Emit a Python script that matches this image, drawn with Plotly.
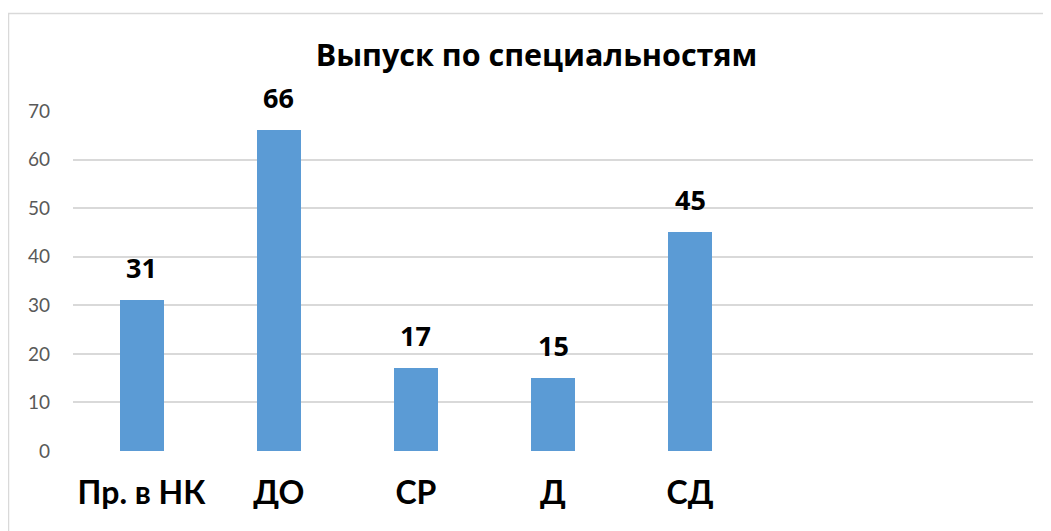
import plotly.graph_objects as go

categories = ["Пр. в НК", "ДО", "СР", "Д", "СД"]
values = [31, 66, 17, 15, 45]
y_ticks = [0, 10, 20, 30, 40, 50, 60, 70]
n_slots = 7  # two empty category slots on the right

x_pos = list(range(len(categories)))

# the page body has an 8px margin, so the figure is drawn 8px in from the window corner
W, H = 1043, 523
L, R, T, B = 65, 18, 103, 80
plot_h = H - T - B

fig = go.Figure()
fig.add_trace(go.Bar(
    x=x_pos,
    y=values,
    width=0.32,
    marker=dict(color="#5B9BD5", line=dict(width=0)),
    hoverinfo="skip",
))

for xp, v in zip(x_pos, values):
    fig.add_annotation(
        x=xp, y=v, xref="x", yref="y",
        text=f"<b>{v}</b>",
        showarrow=False,
        yanchor="bottom",
        yshift=12,
        font=dict(family="Open Sans", size=27, color="#000000"),
    )

fig.update_layout(
    width=W,
    height=H,
    margin=dict(l=L, r=R, t=T, b=B, pad=0, autoexpand=False),
    paper_bgcolor="#ffffff",
    plot_bgcolor="#ffffff",
    showlegend=False,
    font=dict(family="Lato"),
    title=dict(
        text="<b>Выпуск по специальностям</b>",
        x=(536.5 - 8) / W,
        xanchor="center",
        y=1 - 47 / H,
        yanchor="middle",
        font=dict(family="Open Sans", size=30.5, color="#000000"),
    ),
    bargap=0,
)

fig.update_xaxes(
    range=[-0.5, n_slots - 0.5],
    tickvals=x_pos,
    ticktext=categories,
    tickfont=dict(family="Lato", size=32, color="#000000", weight="bold"),
    showgrid=False,
    zeroline=False,
    showline=False,
    ticks="",
    ticklabelstandoff=20,
    automargin=False,
)

fig.update_yaxes(
    range=[0, 70],
    tickvals=y_ticks,
    tickfont=dict(family="Lato", size=19, color="#595959"),
    showgrid=True,
    gridcolor="#d9d9d9",
    gridwidth=1.5,
    zeroline=False,
    showline=False,
    ticks="",
    ticklabelstandoff=22,
    automargin=False,
)

# outer chart border (extends beyond the right and bottom of the window)
fig.add_shape(
    type="rect",
    xref="paper", yref="paper",
    x0=(0.5 - L) / (W - L - R), x1=1.2,
    y0=-0.5, y1=(H - B - 5.5) / plot_h,
    line=dict(color="#d9d9d9", width=1.5),
    fillcolor="rgba(0,0,0,0)",
    layer="below",
)

fig.write_html("out.html")
